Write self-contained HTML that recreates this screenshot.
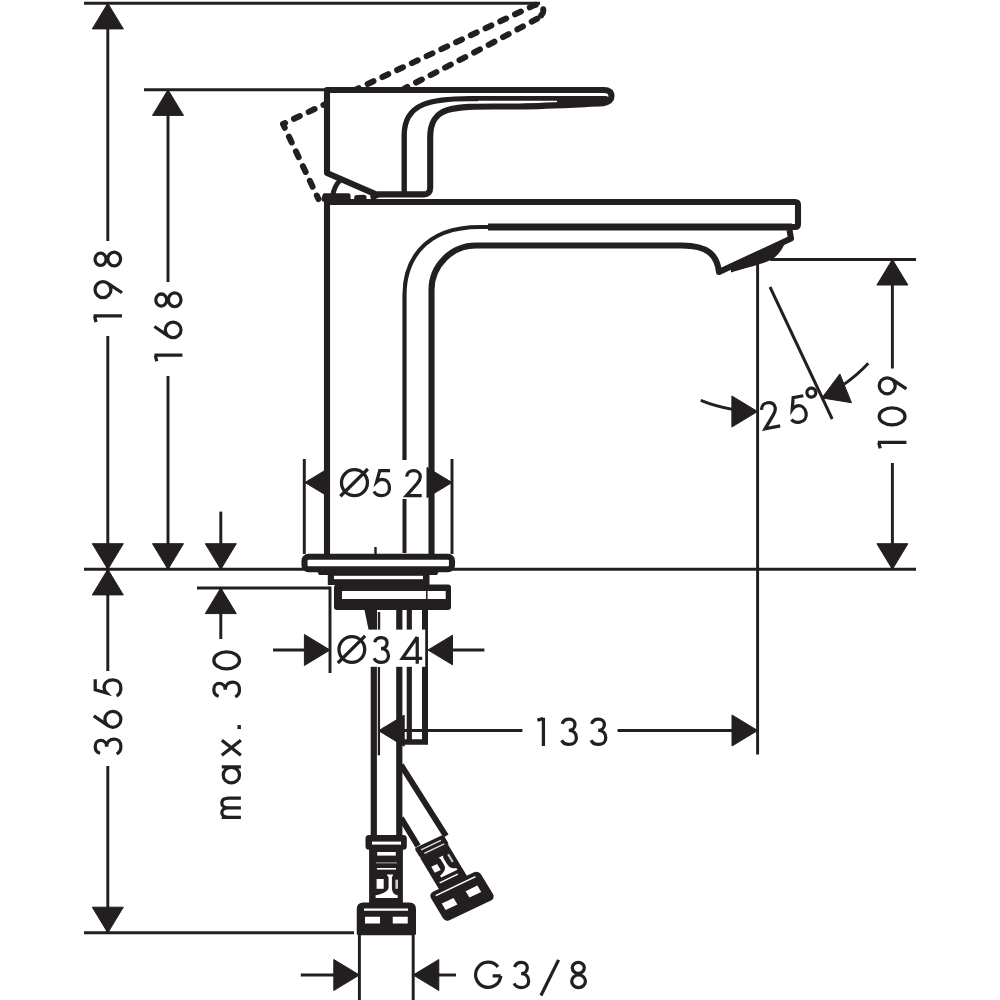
<!DOCTYPE html>
<html><head><meta charset="utf-8"><style>
html,body{margin:0;padding:0;background:#fff;width:1000px;height:1000px;overflow:hidden;font-family:"Liberation Sans",sans-serif}
svg{display:block}
</style></head><body>
<svg width="1000" height="1000" viewBox="0 0 1000 1000">
<rect width="1000" height="1000" fill="#fff"/>
<g fill="none" stroke-linecap="butt">
<line x1="84" y1="3.3" x2="540" y2="3.3" stroke="#231f20" stroke-width="2.95"/><line x1="144" y1="89.8" x2="330" y2="89.8" stroke="#231f20" stroke-width="2.95"/><line x1="84" y1="569.3" x2="916" y2="569.3" stroke="#231f20" stroke-width="2.95"/><line x1="197" y1="588" x2="330" y2="588" stroke="#231f20" stroke-width="2.95"/><line x1="770" y1="259.4" x2="916" y2="259.4" stroke="#231f20" stroke-width="2.95"/><line x1="84" y1="932.8" x2="354" y2="932.8" stroke="#231f20" stroke-width="2.95"/><line x1="107.8" y1="5" x2="107.8" y2="241" stroke="#231f20" stroke-width="2.95"/><line x1="107.8" y1="336" x2="107.8" y2="569" stroke="#231f20" stroke-width="2.95"/><path d="M107.80,3.30 L123.30,28.90 L92.30,28.90 Z" fill="#231f20" stroke="#231f20" stroke-width="1" stroke-linejoin="round"/><path d="M107.80,569.30 L92.30,543.70 L123.30,543.70 Z" fill="#231f20" stroke="#231f20" stroke-width="1" stroke-linejoin="round"/><line x1="168" y1="92" x2="168" y2="282" stroke="#231f20" stroke-width="2.95"/><line x1="168" y1="376" x2="168" y2="569" stroke="#231f20" stroke-width="2.95"/><path d="M168.00,89.80 L183.50,115.40 L152.50,115.40 Z" fill="#231f20" stroke="#231f20" stroke-width="1" stroke-linejoin="round"/><path d="M168.00,569.30 L152.50,543.70 L183.50,543.70 Z" fill="#231f20" stroke="#231f20" stroke-width="1" stroke-linejoin="round"/><line x1="107.8" y1="570" x2="107.8" y2="671" stroke="#231f20" stroke-width="2.95"/><line x1="107.8" y1="766" x2="107.8" y2="932" stroke="#231f20" stroke-width="2.95"/><path d="M107.80,569.30 L123.30,594.90 L92.30,594.90 Z" fill="#231f20" stroke="#231f20" stroke-width="1" stroke-linejoin="round"/><path d="M107.80,932.80 L92.30,907.20 L123.30,907.20 Z" fill="#231f20" stroke="#231f20" stroke-width="1" stroke-linejoin="round"/><line x1="220.8" y1="511.6" x2="220.8" y2="569" stroke="#231f20" stroke-width="2.95"/><path d="M220.80,569.30 L205.30,543.70 L236.30,543.70 Z" fill="#231f20" stroke="#231f20" stroke-width="1" stroke-linejoin="round"/><line x1="220.8" y1="588" x2="220.8" y2="639" stroke="#231f20" stroke-width="2.95"/><path d="M220.80,588.00 L236.30,613.60 L205.30,613.60 Z" fill="#231f20" stroke="#231f20" stroke-width="1" stroke-linejoin="round"/><line x1="892.4" y1="260" x2="892.4" y2="368.5" stroke="#231f20" stroke-width="2.95"/><line x1="892.4" y1="463" x2="892.4" y2="569" stroke="#231f20" stroke-width="2.95"/><path d="M892.40,259.40 L907.90,285.00 L876.90,285.00 Z" fill="#231f20" stroke="#231f20" stroke-width="1" stroke-linejoin="round"/><path d="M892.40,569.30 L876.90,543.70 L907.90,543.70 Z" fill="#231f20" stroke="#231f20" stroke-width="1" stroke-linejoin="round"/><line x1="757.6" y1="262" x2="757.6" y2="754.6" stroke="#231f20" stroke-width="2.95"/><line x1="770" y1="287" x2="832.2" y2="419" stroke="#231f20" stroke-width="2.95"/><path d="M700.75,400.47 A151.5,151.5 0 0 0 732.50,409.42" fill="none" stroke="#231f20" stroke-width="2.95"/><path d="M843.31,384.86 A151.5,151.5 0 0 0 868.30,363.32" fill="none" stroke="#231f20" stroke-width="2.95"/><path d="M757.50,411.50 L731.90,427.00 L731.90,396.00 Z" fill="#231f20" stroke="#231f20" stroke-width="1" stroke-linejoin="round"/><path d="M821.93,397.91 L839.86,373.94 L851.47,402.69 Z" fill="#231f20" stroke="#231f20" stroke-width="1" stroke-linejoin="round"/><line x1="304.3" y1="459" x2="304.3" y2="554" stroke="#231f20" stroke-width="2.95"/><line x1="452" y1="459" x2="452" y2="554" stroke="#231f20" stroke-width="2.95"/><path d="M305.00,482.50 L329.50,467.70 L329.50,497.30 Z" fill="#231f20" stroke="#231f20" stroke-width="1" stroke-linejoin="round"/><path d="M452.00,482.50 L427.00,497.60 L427.00,467.40 Z" fill="#231f20" stroke="#231f20" stroke-width="1" stroke-linejoin="round"/><line x1="330" y1="586.6" x2="330" y2="673" stroke="#231f20" stroke-width="2.95"/><line x1="273" y1="650" x2="306" y2="650" stroke="#231f20" stroke-width="2.95"/><path d="M330.00,650.00 L304.40,665.50 L304.40,634.50 Z" fill="#231f20" stroke="#231f20" stroke-width="1" stroke-linejoin="round"/><line x1="451" y1="650" x2="484.4" y2="650" stroke="#231f20" stroke-width="2.95"/><path d="M428.00,650.00 L452.50,635.20 L452.50,664.80 Z" fill="#231f20" stroke="#231f20" stroke-width="1" stroke-linejoin="round"/><line x1="403" y1="730.5" x2="522.4" y2="730.5" stroke="#231f20" stroke-width="2.95"/><line x1="617.6" y1="730.5" x2="733" y2="730.5" stroke="#231f20" stroke-width="2.95"/><path d="M378.60,730.70 L404.20,715.20 L404.20,746.20 Z" fill="#231f20" stroke="#231f20" stroke-width="1" stroke-linejoin="round"/><path d="M757.60,730.50 L732.00,746.00 L732.00,715.00 Z" fill="#231f20" stroke="#231f20" stroke-width="1" stroke-linejoin="round"/><line x1="378.9" y1="667" x2="378.9" y2="755.3" stroke="#231f20" stroke-width="2.3"/><line x1="359.4" y1="934" x2="359.4" y2="1000" stroke="#231f20" stroke-width="2.95"/><line x1="413.2" y1="934" x2="413.2" y2="1000" stroke="#231f20" stroke-width="2.95"/><line x1="300.8" y1="975" x2="334" y2="975" stroke="#231f20" stroke-width="2.95"/><path d="M359.40,975.00 L333.80,990.50 L333.80,959.50 Z" fill="#231f20" stroke="#231f20" stroke-width="1" stroke-linejoin="round"/><line x1="438" y1="975" x2="456" y2="975" stroke="#231f20" stroke-width="2.95"/><path d="M413.20,975.00 L438.80,959.50 L438.80,990.50 Z" fill="#231f20" stroke="#231f20" stroke-width="1" stroke-linejoin="round"/>
<path transform="translate(-51.11,182.39) rotate(-25.3)" d="M327,173 V90 H604 C609,90 611.5,92.5 611.5,96 C611.5,99.5 609,102 603,103.3" fill="none" stroke="#231f20" stroke-width="6" stroke-dasharray="6.5 9.8" stroke-dashoffset="2.65" stroke-linecap="round" stroke-linejoin="round"/><path transform="translate(-51.11,182.39) rotate(-25.3)" d="M603,103.3 C560,106 500,108.5 458,109.5 C442,109.5 430,118 430,135 V188" fill="none" stroke="#231f20" stroke-width="6" stroke-dasharray="6.5 9.8" stroke-dashoffset="15.25" stroke-linecap="round" stroke-linejoin="round"/><path transform="translate(-51.11,182.39) rotate(-25.3)" d="M430,188 C430,192 428,194.4 424,194.4 H376 L327,173" fill="none" stroke="#231f20" stroke-width="6" stroke-dasharray="6.5 9.8" stroke-dashoffset="15.35" stroke-linecap="round" stroke-linejoin="round"/><path d="M327,173 V90 H604 C609,90 611.5,92.5 611.5,96 C611.5,99.5 609,102 603,103.3 C575,104.5 545,106 520,106.5 C457.5,106.8 430.2,102.5 430.2,137.5 V188 C430.2,192 428,194.4 424,194.4 H376 L327,173 Z" fill="#fff" stroke="#231f20" stroke-width="6.1" stroke-linejoin="round"/><path d="M404.2,192 V135 C404.2,102.5 432.5,98.6 470,98.6 H478" fill="none" stroke="#231f20" stroke-width="5.4"/><path d="M476,98.4 H560" fill="none" stroke="#231f20" stroke-width="4.6"/><path d="M557,96 H606 C609,96.5 609.5,99 607,101 L603,103.5 L557,105.5 Z" fill="#231f20"/><path d="M332.5,197 C333.5,189 336,184 340.5,180" fill="none" stroke="#231f20" stroke-width="5"/><rect x="322.5" y="193.3" width="28" height="7" rx="2" fill="#231f20"/><path d="M327,556 V202 H795 Q798,202 798,205 V224 Q798,227 795,227 H488" fill="none" stroke="#231f20" stroke-width="6.1" stroke-linejoin="round"/><path d="M488,227 H792" fill="none" stroke="#231f20" stroke-width="6.8"/><path d="M404.5,460 V295 C404.5,265 420,227 480,227 H490" fill="none" stroke="#231f20" stroke-width="4.2"/><path d="M404.5,499 V553" fill="none" stroke="#231f20" stroke-width="4"/><path d="M431.5,556 V290 A44.5,44.5 0 0 1 476,245.5 H682 C708,245.5 717,255 719,272 L791,238.5 L789.5,230" fill="none" stroke="#231f20" stroke-width="6.1" stroke-linejoin="round"/><path d="M731,268 L785,242 C783,249 779,254 774,258 C768,262 760,264 750,267 C742,269 736,271 731,272.5 Z" fill="#231f20"/><rect x="304.5" y="556.7" width="147.5" height="12.6" rx="4" fill="#fff" stroke="#231f20" stroke-width="6.1"/><line x1="375.5" y1="547" x2="375.5" y2="554" stroke="#231f20" stroke-width="2.4"/><path d="M317,571 H439 L437,575 H319 Z" fill="#231f20"/><rect x="327.8" y="574.5" width="101.7" height="10.5" fill="#231f20"/><rect x="334" y="575.8" width="89" height="3.4" fill="#fff"/><rect x="334" y="584.6" width="117" height="25.4" rx="3" fill="#231f20"/><rect x="342" y="591" width="103.7" height="8" fill="#fff"/><line x1="426.8" y1="591" x2="426.8" y2="599" stroke="#231f20" stroke-width="1.5"/><path d="M364.5,610 L376.9,610 L376.9,640 L370.7,640 Z" fill="#231f20"/><line x1="379" y1="612" x2="379" y2="640" stroke="#231f20" stroke-width="2.4"/><line x1="373.8" y1="610" x2="373.8" y2="836" stroke="#231f20" stroke-width="6.2"/><line x1="399.3" y1="610" x2="399.3" y2="836" stroke="#231f20" stroke-width="6.2"/><line x1="409.3" y1="610" x2="409.3" y2="744" stroke="#231f20" stroke-width="5.2"/><line x1="425" y1="610" x2="425" y2="744" stroke="#231f20" stroke-width="6"/><line x1="397" y1="742" x2="428" y2="742" stroke="#231f20" stroke-width="5.5"/><rect x="333" y="629.6" width="92.2" height="37.2" fill="#fff"/><path d="M401,765 L446,836" stroke="#231f20" stroke-width="6" fill="none"/><path d="M401,818 L418,846" stroke="#231f20" stroke-width="6" fill="none"/><g transform="translate(386,835)"><rect x="-20.5" y="0" width="41.3" height="14.75" rx="3.5" fill="#231f20"/><rect x="-14" y="6.6" width="29" height="3" fill="#fff"/><rect x="-16.9" y="14" width="33.8" height="54" fill="#231f20"/><rect x="-8.8" y="17" width="18.6" height="3.6" fill="#fff"/><rect x="-10" y="27" width="21" height="1.6" fill="#777"/><rect x="-9.1" y="33" width="19.1" height="1.6" fill="#fff"/><rect x="-9.4" y="44" width="7.1" height="9.8" fill="#fff"/><path d="M0.7,39.5 H7.2 L5.9,42.5 V52 C5.9,57.5 8,59.6 11.7,60.3 V62.9 H-10.4 V60.3 C-6.5,59.6 2.6,57.5 2.6,52 V42.5 Z" fill="#fff"/><rect x="9.4" y="44.7" width="2.6" height="9.1" fill="#ccc"/><path d="M-29.25,74 Q-29.25,67.5 -22.75,67.5 H23.5 Q30,67.5 30,74 V98.5 Q30,100.3 28.2,100.3 H-27.45 Q-29.25,100.3 -29.25,98.5 Z" fill="#231f20"/><rect x="-22" y="73.5" width="44" height="2.25" fill="#fff"/><rect x="-21" y="81.75" width="15" height="6.75" fill="#fff"/><rect x="6.75" y="81.75" width="15" height="6.75" fill="#fff"/></g><g transform="matrix(0.9026,-0.4305,0.515,0.857,428.8,841.45)"><rect x="-16" y="0" width="32" height="11.5" rx="2.5" fill="#231f20"/><rect x="-11" y="3.6" width="22" height="1.3" fill="#ddd"/><rect x="-10" y="8.2" width="22" height="1.3" fill="#ddd"/><rect x="-16" y="11" width="31" height="38" fill="#231f20"/><rect x="-11" y="24" width="6.5" height="7" fill="#fff"/><path d="M0,19 H5 L4,21 V28 C4,33 6,35 10,36 V38 H-8 V36 C-4,35 1,33 1,28 V21 Z" fill="#fff"/><rect x="9" y="20" width="2" height="9" fill="#ccc"/><rect x="-12" y="41.5" width="20" height="1.4" fill="#fff"/><rect x="-27.5" y="47.5" width="55.5" height="33" rx="5" fill="#231f20"/><rect x="-22" y="51.3" width="44" height="1.5" fill="#fff"/><rect x="-21" y="62" width="13" height="7.5" fill="#fff"/><rect x="6" y="61" width="13" height="7.5" fill="#fff"/></g>
<g transform="translate(93.6,321.6) rotate(-90)"><path transform="translate(-0.60,0.00) scale(0.2840)" d="M0.5,8.5 L21,3.5 M22,0 V100" fill="none" stroke="#231f20" stroke-width="11.44"/><path transform="translate(22.60,0.00) scale(0.2840)" d="M61,33 A28,28 0 1 1 5,33 A28,28 0 1 1 61,33 M56,49 L22,100" fill="none" stroke="#231f20" stroke-width="11.44"/><path transform="translate(54.20,0.00) scale(0.2840)" d="M50,24.5 A21.5,19.5 0 1 1 7,24.5 A21.5,19.5 0 1 1 50,24.5 M54,72.5 A24.5,22.5 0 1 1 5,72.5 A24.5,22.5 0 1 1 54,72.5" fill="none" stroke="#231f20" stroke-width="11.44"/></g><g transform="translate(154.4,360.8) rotate(-90)"><path transform="translate(-0.60,0.00) scale(0.2800)" d="M0.5,8.5 L21,3.5 M22,0 V100" fill="none" stroke="#231f20" stroke-width="11.61"/><path transform="translate(21.40,0.00) scale(0.2800)" d="M62,67 A28,28 0 1 1 6,67 A28,28 0 1 1 62,67 M11,51 L46,0" fill="none" stroke="#231f20" stroke-width="11.61"/><path transform="translate(52.80,0.00) scale(0.2800)" d="M50,24.5 A21.5,19.5 0 1 1 7,24.5 A21.5,19.5 0 1 1 50,24.5 M54,72.5 A24.5,22.5 0 1 1 5,72.5 A24.5,22.5 0 1 1 54,72.5" fill="none" stroke="#231f20" stroke-width="11.61"/></g><g transform="translate(93.8,755) rotate(-90)"><path transform="translate(0.00,0.00) scale(0.2850)" d="M6,22 C9,11 19,5 30,5 C43,5 51,13 51,24 C51,36 42,45 29,45 C46,45 56,56 56,72 C56,86 45,95 30,95 C18,95 8,89 4,80" fill="none" stroke="#231f20" stroke-width="11.40"/><path transform="translate(26.00,0.00) scale(0.2850)" d="M62,67 A28,28 0 1 1 6,67 A28,28 0 1 1 62,67 M11,51 L46,0" fill="none" stroke="#231f20" stroke-width="11.40"/><path transform="translate(58.00,0.00) scale(0.2850)" d="M62,5 H25 L14,45 C20,39 26,36 33,36 C50,36 60,49 60,67 C60,85 48,95 32,95 C19,95 9,89 4,80" fill="none" stroke="#231f20" stroke-width="11.40"/></g><g transform="translate(212.4,818.7) rotate(-90)"><path transform="translate(0.00,0.00) scale(0.2850)" d="M5,100 V33 M5,58 C5,42 12,33 21,33 C31,33 38,42 38,55 V100 M38,55 C38,42 45,33 55,33 C65,33 72,42 72,58 V100" fill="none" stroke="#231f20" stroke-width="11.40"/><path transform="translate(35.30,0.00) scale(0.2850)" d="M56,66.5 A27,28.5 0 1 1 2,66.5 A27,28.5 0 1 1 56,66.5 M58,33 V100" fill="none" stroke="#231f20" stroke-width="11.40"/><path transform="translate(62.80,0.00) scale(0.2850)" d="M2,33 L55,100 M55,33 L2,100" fill="none" stroke="#231f20" stroke-width="11.40"/><path transform="translate(89.60,0.00) scale(0.2850)" d="M0,88 h14 v12 h-14 z" fill="#231f20" stroke="none" stroke-width="11.40"/><path transform="translate(120.70,0.00) scale(0.2850)" d="M6,22 C9,11 19,5 30,5 C43,5 51,13 51,24 C51,36 42,45 29,45 C46,45 56,56 56,72 C56,86 45,95 30,95 C18,95 8,89 4,80" fill="none" stroke="#231f20" stroke-width="11.40"/><path transform="translate(148.30,0.00) scale(0.2850)" d="M65,50 A30,45 0 1 1 5,50 A30,45 0 1 1 65,50" fill="none" stroke="#231f20" stroke-width="11.40"/></g><g transform="translate(877.8,448) rotate(-90)"><path transform="translate(-0.60,0.00) scale(0.2860)" d="M0.5,8.5 L21,3.5 M22,0 V100" fill="none" stroke="#231f20" stroke-width="11.36"/><path transform="translate(21.60,0.00) scale(0.2860)" d="M65,50 A30,45 0 1 1 5,50 A30,45 0 1 1 65,50" fill="none" stroke="#231f20" stroke-width="11.36"/><path transform="translate(52.80,0.00) scale(0.2860)" d="M61,33 A28,28 0 1 1 5,33 A28,28 0 1 1 61,33 M56,49 L22,100" fill="none" stroke="#231f20" stroke-width="11.36"/></g><path transform="translate(339.50,469.30) scale(0.2780)" d="M100.4,48 A46.6,46.6 0 1 1 7.2,48 A46.6,46.6 0 1 1 100.4,48 M3,97 L102,-1" fill="none" stroke="#231f20" stroke-width="11.69"/><path transform="translate(372.80,469.30) scale(0.2780)" d="M62,5 H25 L14,45 C20,39 26,36 33,36 C50,36 60,49 60,67 C60,85 48,95 32,95 C19,95 9,89 4,80" fill="none" stroke="#231f20" stroke-width="11.69"/><path transform="translate(405.00,469.30) scale(0.2780)" d="M6,26 C7,13 17,5 31,5 C45,5 55,14 55,27 C55,36 51,43 44,51 L5,95 H60" fill="none" stroke="#231f20" stroke-width="11.69"/><path transform="translate(337.00,636.20) scale(0.2760)" d="M100.4,48 A46.6,46.6 0 1 1 7.2,48 A46.6,46.6 0 1 1 100.4,48 M3,97 L102,-1" fill="none" stroke="#231f20" stroke-width="11.78"/><path transform="translate(373.00,636.20) scale(0.2760)" d="M6,22 C9,11 19,5 30,5 C43,5 51,13 51,24 C51,36 42,45 29,45 C46,45 56,56 56,72 C56,86 45,95 30,95 C18,95 8,89 4,80" fill="none" stroke="#231f20" stroke-width="11.78"/><path transform="translate(401.50,636.20) scale(0.2760)" d="M57,100 V3 M57,3 L3,80 H75" fill="none" stroke="#231f20" stroke-width="11.78"/><path transform="translate(537.20,717.70) scale(0.2820)" d="M0.5,8.5 L21,3.5 M22,0 V100" fill="none" stroke="#231f20" stroke-width="11.52"/><path transform="translate(560.60,717.70) scale(0.2820)" d="M6,22 C9,11 19,5 30,5 C43,5 51,13 51,24 C51,36 42,45 29,45 C46,45 56,56 56,72 C56,86 45,95 30,95 C18,95 8,89 4,80" fill="none" stroke="#231f20" stroke-width="11.52"/><path transform="translate(590.00,717.70) scale(0.2820)" d="M6,22 C9,11 19,5 30,5 C43,5 51,13 51,24 C51,36 42,45 29,45 C46,45 56,56 56,72 C56,86 45,95 30,95 C18,95 8,89 4,80" fill="none" stroke="#231f20" stroke-width="11.52"/><path transform="translate(474.75,961.00) scale(0.2800)" d="M83,21 A45,45 0 1 0 92.9,53 M64,53 H92.9" fill="none" stroke="#231f20" stroke-width="11.61"/><path transform="translate(513.00,961.00) scale(0.2800)" d="M6,22 C9,11 19,5 30,5 C43,5 51,13 51,24 C51,36 42,45 29,45 C46,45 56,56 56,72 C56,86 45,95 30,95 C18,95 8,89 4,80" fill="none" stroke="#231f20" stroke-width="11.61"/><path transform="translate(539.00,961.00) scale(0.2800)" d="M7,123 L70,-4" fill="none" stroke="#231f20" stroke-width="11.61"/><path transform="translate(570.30,961.00) scale(0.2800)" d="M50,24.5 A21.5,19.5 0 1 1 7,24.5 A21.5,19.5 0 1 1 50,24.5 M54,72.5 A24.5,22.5 0 1 1 5,72.5 A24.5,22.5 0 1 1 54,72.5" fill="none" stroke="#231f20" stroke-width="11.61"/><g transform="rotate(-11 785 415)"><path transform="translate(761.40,398.20) scale(0.2800)" d="M6,26 C7,13 17,5 31,5 C45,5 55,14 55,27 C55,36 51,43 44,51 L5,95 H60" fill="none" stroke="#231f20" stroke-width="11.61"/><path transform="translate(789.30,398.20) scale(0.2800)" d="M62,5 H25 L14,45 C20,39 26,36 33,36 C50,36 60,49 60,67 C60,85 48,95 32,95 C19,95 9,89 4,80" fill="none" stroke="#231f20" stroke-width="11.61"/><path transform="translate(809.00,393.00) scale(0.2800)" d="M38,18 A16,16 0 1 1 6,18 A16,16 0 1 1 38,18" fill="none" stroke="#231f20" stroke-width="11.61"/></g>
</g>
</svg>
</body></html>
